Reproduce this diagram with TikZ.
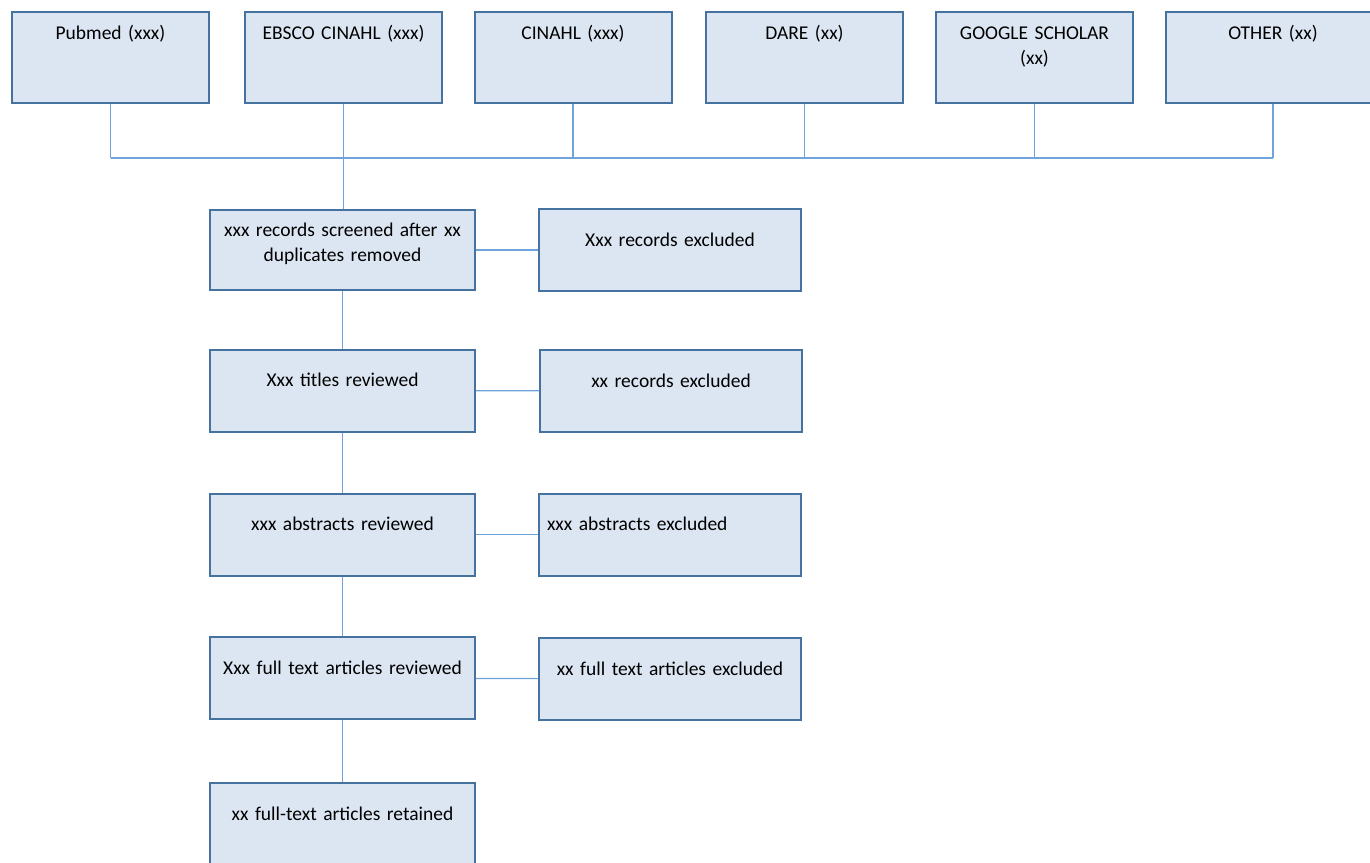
\documentclass[tikz,border=0pt]{standalone}
\usepackage{fontspec}
\setmainfont{Carlito}
\definecolor{boxfill}{RGB}{220,230,242}
\definecolor{boxline}{RGB}{70,114,160}
\definecolor{wire}{RGB}{110,163,219}
\begin{document}
\begin{tikzpicture}[x=1pt,y=-1pt]
  \tikzstyle{b}=[draw=boxline, fill=boxfill, line width=2pt,
    inner sep=0pt, align=center, font=\fontsize{19.5}{25}\selectfont]
  \tikzstyle{src}=[b, text height=27pt, text depth=64pt]
  \tikzstyle{stage}=[b, text width=265pt, text height=37pt, text depth=45pt]
  \tikzstyle{excl}=[b, text width=262pt, text height=37pt, text depth=45pt]
  \tikzstyle{w}=[draw=wire, line width=1.2pt]
  \useasboundingbox (0,0) rectangle (1370,862);
  % sources
  \foreach \n/\x/\bw/\t in {pub/110.5/197/Pubmed (xxx),
      ebsco/343.5/197/EBSCO CINAHL (xxx), cin/573/197/CINAHL (xxx),
      dare/804.5/197/DARE (xx), gs/1034.5/197/GOOGLE SCHOLAR\\(xx),
      oth/1273/214/OTHER (xx)}
    \node[src, text width=\bw pt] 
      (\n) at (\x,57.5) {\t};
  \coordinate (bus) at (0,158);
  % screening steps
  \node[stage, text height=26pt, text depth=54pt] 
    (scr) at (342.5,250) {xxx records screened after xx\\duplicates removed};
  \node[excl] (exc1) at (670,250) {Xxx records excluded};
  \node[stage] (tit) at (342.5,390.5) {Xxx titles reviewed};
  \node[excl] (exc2) at (671,391) {xx records excluded};
  \node[stage] (abs) at (342.5,534.5) {xxx abstracts reviewed};
  \node[excl, align=left, text width=246pt, inner xsep=8pt] 
    (exc3) at (670,534.5) {xxx abstracts excluded};
  \node[stage] (ful) at (342.5,678) {Xxx full text articles reviewed};
  \node[excl] (exc4) at (670,679) {xx full text articles excluded};
  \node[stage] (ret) at (342.5,824) {xx full-text articles retained};
  % connectors
  \foreach \n in {pub,cin,dare,gs,oth}
    \draw[w] (\n.south) -- (\n.south |- bus);
  \draw[w] (pub.south |- bus) -- (oth.south |- bus);
  \draw[w] (ebsco.south) -- (ebsco.south |- scr.north);
  \foreach \a/\b in {scr/tit,tit/abs,abs/ful,ful/ret}
    \draw[w] (\a) -- (\b);
  \foreach \a/\b in {scr/exc1,tit/exc2,abs/exc3,ful/exc4}
    \draw[w] (\a) -- (\b);
\end{tikzpicture}
\end{document}
